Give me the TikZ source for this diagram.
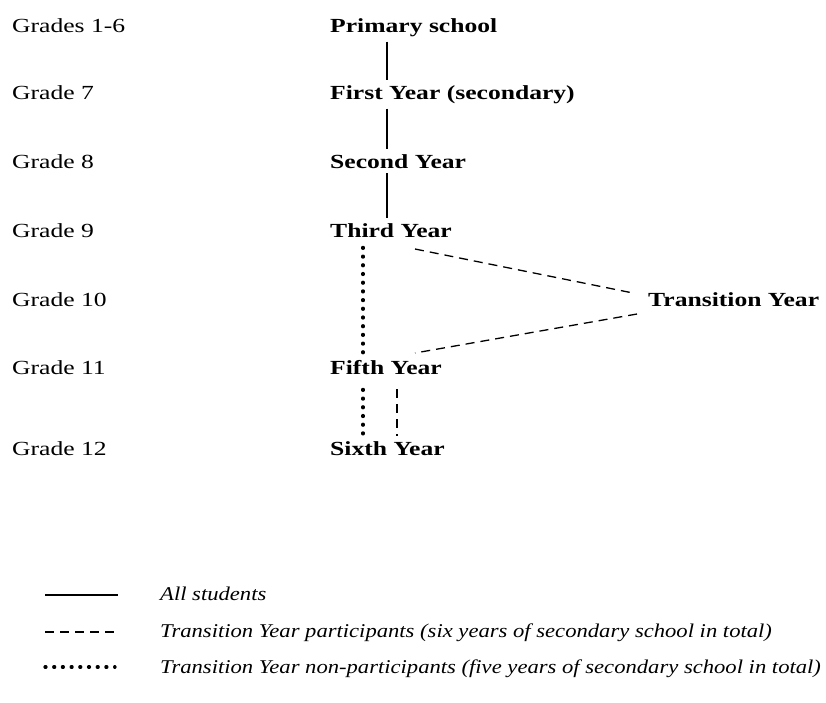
\documentclass[tikz,border=0pt]{standalone}
\usepackage{fontspec}
\setmainfont{Liberation Serif}[FakeStretch=1.28]
\newfontfamily\legfont{Liberation Serif}[FakeStretch=1.16]
\usetikzlibrary{calc}
\tikzstyle{grade} = [anchor=base west,
                     inner xsep=0pt,
                     inner ysep=5pt,
                     font=\fontsize{20}{24}\selectfont,
                    ]
\tikzstyle{level} = [grade,
                     font=\fontsize{20}{24}\selectfont\bfseries,
                    ]
\tikzstyle{legtext} = [anchor=base west,
                       inner sep=0pt,
                       font=\legfont\fontsize{19.5}{23}\selectfont\itshape,
                      ]
\tikzstyle{allline} = [line width=1.3pt]
\tikzstyle{tyline} = [line width=1.3pt, dash pattern=on 9pt off 6pt]
\tikzstyle{nontyline} = [line width=3.2pt, line cap=round, dash pattern=on 1pt off 7.7pt]

\begin{document}
\begin{tikzpicture}[x=1pt, y=-1pt]
\useasboundingbox (0,0) rectangle (826,702);

% grades
\node (g16) [grade] at (12,32) {Grades 1-6};
\node (g7) [grade] at (12,99) {Grade 7};
\node (g8) [grade] at (12,168) {Grade 8};
\node (g9) [grade] at (12,237) {Grade 9};
\node (g10) [grade] at (12,306) {Grade 10};
\node (g11) [grade] at (12,374) {Grade 11};
\node (g12) [grade] at (12,455) {Grade 12};

% school years
\node (prim) [level] at (330,32) {Primary school};
\node (first) [level] at (330,99) {First Year (secondary)};
\node (second) [level] at (330,168) {Second Year};
\node (third) [level] at (330,237) {Third Year};
\node (tran) [level] at (648,306) {Transition Year};
\node (fifth) [level] at (330,374) {Fifth Year};
\node (sixth) [level] at (330,455) {Sixth Year};

\coordinate (trunk) at (387,0);
\coordinate (nonty) at (363,0);
\coordinate (ty) at (397,0);

\draw [allline] (prim.south -| trunk) -- (first.north -| trunk);
\draw [allline] (first.south -| trunk) -- (second.north -| trunk);
\draw [allline] (second.south -| trunk) -- (third.north -| trunk);

\draw [nontyline, shorten <=5pt] (third.south -| nonty) -- (fifth.north -| nonty);
\draw [nontyline, shorten <=10pt] (fifth.south -| nonty) -- (sixth.north -| nonty);

\draw [tyline] ($(third.base west)+(85,12)$) -- ($(tran.base west)+(-15,-13)$);
\draw [tyline] ($(tran.base west)+(-11,8)$) -- ($(fifth.base west)+(85,-21)$);
\draw [tyline, shorten <=10pt] (fifth.south -| ty) -- (sixth.north -| ty);

% legend
\node (lall) [legtext] at (160,600) {All students};
\node (lty) [legtext] at (160,637) {Transition Year participants (six years of secondary school in total)};
\node (lnonty) [legtext] at (160,673) {Transition Year non-participants (five years of secondary school in total)};

\draw [allline] ($(lall.base west)+(-115,-5)$) -- ($(lall.base west)+(-42,-5)$);
\draw [tyline] ($(lty.base west)+(-115,-5)$) -- ($(lty.base west)+(-42,-5)$);
\draw [nontyline] ($(lnonty.base west)+(-115,-6)$) -- ($(lnonty.base west)+(-45,-6)$);

\end{tikzpicture}
\end{document}
